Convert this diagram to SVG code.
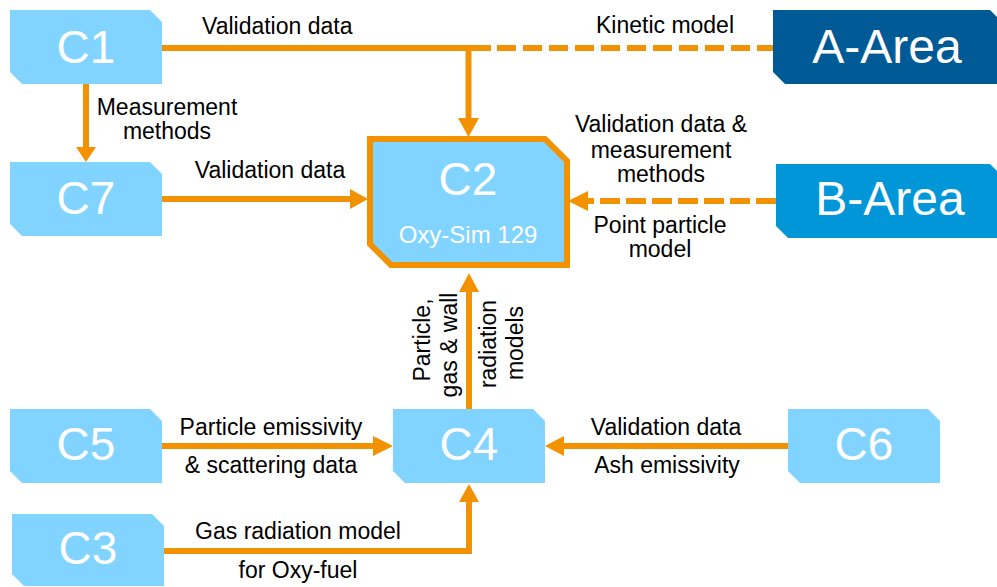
<svg xmlns="http://www.w3.org/2000/svg" width="997" height="587" viewBox="0 0 997 587">
<style>
.box{fill:#80D4FF}
.big{font-family:"Liberation Sans",Arial,sans-serif;font-size:46px;fill:#fff;text-anchor:middle}
.area{font-family:"Liberation Sans",Arial,sans-serif;font-size:48px;fill:#fff;text-anchor:middle}
.lbl{font-family:"Liberation Sans",Arial,sans-serif;font-size:23px;fill:#000;text-anchor:middle}
.ln{fill:none;stroke:#F39200;stroke-width:6}
.dash{stroke-dasharray:19 7}
.ah{fill:#F39200}
</style>
<rect width="997" height="587" fill="#fff"/>
<g id="connectors">
  <path class="ln" d="M162,48 H491"/>
  <path class="ln" d="M468.5,45 V119"/>
  <polygon class="ah" points="458,118 479,118 468.5,137"/>
  <path class="ln dash" d="M497,48 H773"/>
  <path class="ln" d="M86,84 V148"/>
  <polygon class="ah" points="76,147 96,147 86,162"/>
  <path class="ln" d="M162,199 H351"/>
  <polygon class="ah" points="350,189 350,209 368,199"/>
  <path class="ln dash" d="M776,201 H587" style="stroke-dasharray:20 6"/>
  <polygon class="ah" points="588,191 588,211 568,201"/>
  <path class="ln" d="M162,446 H374"/>
  <polygon class="ah" points="373,436 373,456 393,446"/>
  <path class="ln" d="M788,446 H563"/>
  <polygon class="ah" points="564,436 564,456 545,446"/>
  <path class="ln" d="M164,551 H469 V501"/>
  <polygon class="ah" points="459,502 479,502 469,484"/>
  <path class="ln" d="M469,409 V291"/>
  <polygon class="ah" points="459,292 479,292 469,273"/>
</g>
<g id="labels">
  <text class="lbl" x="202" y="34" style="text-anchor:start">Validation data</text>
  <text class="lbl" x="665" y="33">Kinetic model</text>
  <text class="lbl" x="167" y="115">Measurement</text>
  <text class="lbl" x="167" y="139">methods</text>
  <text class="lbl" x="270" y="178">Validation data</text>
  <text class="lbl" x="661" y="132">Validation data &amp;</text>
  <text class="lbl" x="661" y="158">measurement</text>
  <text class="lbl" x="661" y="182">methods</text>
  <text class="lbl" x="660" y="233">Point particle</text>
  <text class="lbl" x="660" y="257">model</text>
  <text class="lbl" x="271" y="435">Particle emissivity</text>
  <text class="lbl" x="271" y="473">&amp; scattering data</text>
  <text class="lbl" x="298" y="539">Gas radiation model</text>
  <text class="lbl" x="298" y="578">for Oxy-fuel</text>
  <text class="lbl" x="666" y="435">Validation data</text>
  <text class="lbl" x="667" y="473">Ash emissivity</text>
  <text class="lbl" transform="translate(430,340) rotate(-90)">Particle,</text>
  <text class="lbl" transform="translate(457,345) rotate(-90)">gas &amp; wall</text>
  <text class="lbl" transform="translate(496,344) rotate(-90)">radiation</text>
  <text class="lbl" transform="translate(523,343) rotate(-90)">models</text>
</g>
<g id="C1">
  <path class="box" d="M10,10 H150 L162,22 V84 H22 L10,72 Z"/>
  <text class="big" x="86" y="63">C1</text>
</g>
<g id="C7">
  <path class="box" d="M10,162 H150 L162,174 V236 H22 L10,224 Z"/>
  <text class="big" x="86" y="214">C7</text>
</g>
<g id="C2">
  <path d="M370,139 H545 L567,161 V265 H391 L370,244 Z" fill="#80D4FF" stroke="#F39200" stroke-width="6"/>
  <text class="big" x="468" y="195">C2</text>
  <text x="468" y="243" style="font-family:'Liberation Sans',Arial,sans-serif;font-size:24px;fill:#fff;text-anchor:middle">Oxy-Sim 129</text>
</g>
<g id="A-Area">
  <path d="M773,10 H990 L1002,22 V84 H785 L773,72 Z" fill="#005A96"/>
  <text class="area" x="887" y="63">A-Area</text>
</g>
<g id="B-Area">
  <path d="M776,164 H990 L1002,176 V238 H788 L776,226 Z" fill="#0096D8"/>
  <text class="area" x="890" y="215">B-Area</text>
</g>
<g id="C5">
  <path class="box" d="M10,409 H150 L162,421 V483 H22 L10,471 Z"/>
  <text class="big" x="86" y="460">C5</text>
</g>
<g id="C4">
  <path class="box" d="M393,409 H533 L545,421 V483 H405 L393,471 Z"/>
  <text class="big" x="469" y="460">C4</text>
</g>
<g id="C6">
  <path class="box" d="M788,409 H928 L940,421 V483 H800 L788,471 Z"/>
  <text class="big" x="864" y="460">C6</text>
</g>
<g id="C3">
  <path class="box" d="M12,514 H152 L164,526 V586 H24 L12,574 Z"/>
  <text class="big" x="88" y="564">C3</text>
</g>
</svg>
